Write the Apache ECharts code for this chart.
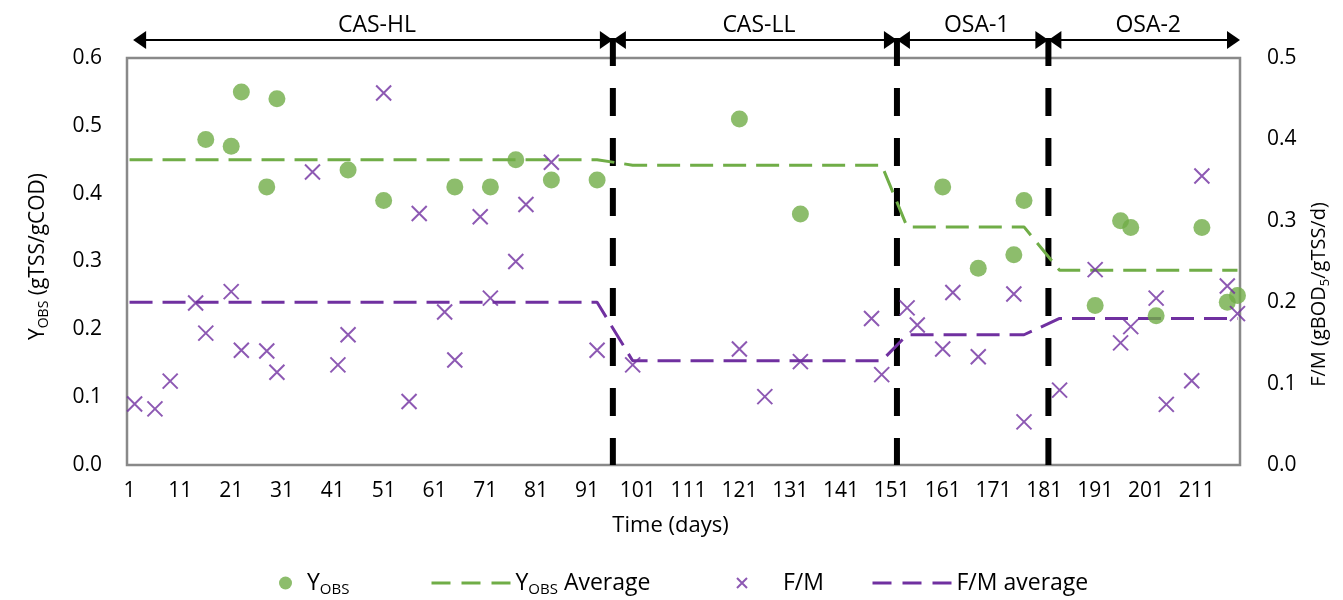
<!DOCTYPE html>
<html><head><meta charset="utf-8">
<script src="https://cdn.jsdelivr.net/npm/echarts@6/dist/echarts.min.js"></script>
<style>html,body{margin:0;padding:0;background:#fff}#c{width:1343px;height:600px}</style>
</head><body><div id="c"></div>
<script>
// ---- data ----
const dayLabels = [];
for (let d = 1; d <= 219; d++) dayLabels.push(String(d));

const yobsDays   = [16,21,23,28,30,44,51,65,72,77,84,93,121,133,161,168,175,177,191,196,198,203,212,217,219];
const yobsValues = [0.48,0.47,0.55,0.41,0.54,0.435,0.39,0.41,0.41,0.45,0.42,0.42,0.51,0.37,0.41,0.29,0.31,0.39,0.235,0.36,0.35,0.22,0.35,0.24,0.25];

const fmDays   = [2,6,9,14,16,21,23,28,30,37,42,44,51,56,58,63,65,70,72,77,79,84,93,100,121,126,133,147,149,154,156,161,163,168,175,177,184,191,196,198,203,205,210,212,217,219];
const fmValues = [0.075,0.069,0.103,0.199,0.162,0.213,0.141,0.140,0.114,0.36,0.123,0.160,0.457,0.078,0.309,0.188,0.129,0.305,0.205,0.25,0.32,0.372,0.141,0.123,0.1425,0.084,0.127,0.180,0.111,0.193,0.172,0.1425,0.212,0.133,0.21,0.053,0.092,0.24,0.15,0.17,0.205,0.0745,0.1036,0.355,0.22,0.186];

const avgDays = [1,93,100,149,154,177,184,219];
const yobsAvg = [0.45,0.45,0.442,0.442,0.351,0.351,0.287,0.287];
const fmAvg   = [0.20,0.20,0.128,0.128,0.16,0.16,0.18,0.18];

const phaseNames = ['CAS-HL','CAS-LL','OSA-1','OSA-2'];
const phaseEdges = [1.7, 96.1, 152.0, 181.8, 219.5];

// ---- styling ----
const FONT = '"Open Sans", sans-serif';
const GREEN = '#70AD47', PURPLE = '#7030A0';
const tickText = { fontFamily: FONT, fontSize: 21, color: '#000' };
const sub = size => ({ fontSize: size, fontFamily: FONT, color: '#000', verticalAlign: 'bottom', lineHeight: size });

const chart = echarts.init(document.getElementById('c'), null, { renderer: 'canvas' });

const LEG_TOP = 569;
const legendText = { fontFamily: FONT, fontSize: 23, color: '#000', lineHeight: 28, rich: { s: sub(15), p1: { width: 10 }, p2: { width: 31 } } };
const hideSym = { opacity: 0, color: 'rgba(0,0,0,0)', borderWidth: 0 };

const option = {
  animation: false,
  backgroundColor: '#fff',
  grid: { left: 127, right: 103, top: 58, bottom: 135, show: true, borderColor: '#898989', borderWidth: 2.5 },
  xAxis: [
    { type: 'category', data: dayLabels, boundaryGap: true,
      axisLine: { show: false }, axisTick: { show: false }, splitLine: { show: false },
      axisLabel: Object.assign({ interval: 9, margin: 16 }, tickText),
      name: 'Time (days)', nameLocation: 'middle', nameGap: 50,
      nameTextStyle: { fontFamily: FONT, fontSize: 22, color: '#000', padding: [0, 26, 0, 0] } },
    { type: 'value', min: 0.5, max: 219.5, show: false }
  ],
  yAxis: [
    { type: 'value', min: 0, max: 0.6, interval: 0.1, position: 'left',
      axisLine: { show: false }, axisTick: { show: false }, splitLine: { show: false },
      axisLabel: Object.assign({ margin: 25, formatter: v => v.toFixed(1) }, tickText),
      name: 'Y{s|OBS} (gTSS/gCOD)', nameLocation: 'middle', nameRotate: 90, nameGap: 76,
      nameTextStyle: { fontFamily: FONT, fontSize: 21, color: '#000', lineHeight: 26, padding: [0, 0, 0, 10], rich: { s: sub(14) } } },
    { type: 'value', min: 0, max: 0.5, interval: 0.1, position: 'right',
      axisLine: { show: false }, axisTick: { show: false }, splitLine: { show: false },
      axisLabel: Object.assign({ margin: 27, formatter: v => v.toFixed(1) }, tickText),
      name: 'F/M (gBOD{s|5}/gTSS/d)', nameLocation: 'middle', nameRotate: 90, nameGap: 67,
      nameTextStyle: { fontFamily: FONT, fontSize: 20, color: '#000', lineHeight: 24, padding: [0, 66, 0, 0], rich: { s: sub(13) } } }
  ],
  legend: [
    { data: [{ name: 'Y_OBS', icon: 'circle' }], left: 279, top: LEG_TOP, itemWidth: 13, itemHeight: 13, padding: 0,
      textStyle: legendText, formatter: () => '{p1|}Y{s|OBS}' },
    { data: ['Y_OBS Average'], left: 430, top: LEG_TOP, itemWidth: 79, itemHeight: 14, padding: 0,
      lineStyle: { type: [19, 11], width: 3 }, itemStyle: hideSym,
      textStyle: legendText, formatter: () => 'Y{s|OBS} Average' },
    { data: ['F/M'], left: 736, top: LEG_TOP, itemWidth: 10, itemHeight: 10, padding: 0,
      textStyle: legendText, formatter: () => '{p2|}F/M' },
    { data: ['F/M average'], left: 871, top: LEG_TOP, itemWidth: 79, itemHeight: 14, padding: 0,
      lineStyle: { type: [19, 11], width: 3 }, itemStyle: hideSym,
      textStyle: legendText, formatter: () => 'F/M average' }
  ],
  series: [
    { name: 'Y_OBS', type: 'scatter', xAxisIndex: 1, yAxisIndex: 0,
      data: yobsDays.map((d, i) => [d, yobsValues[i]]),
      symbol: 'circle', symbolSize: 17, itemStyle: { color: GREEN }, z: 5 },
    { name: 'Y_OBS Average', type: 'line', xAxisIndex: 1, yAxisIndex: 0,
      data: avgDays.map((d, i) => [d, yobsAvg[i]]),
      symbol: 'none', lineStyle: { color: GREEN, width: 3, type: [23, 10] }, itemStyle: { color: GREEN }, z: 3 },
    { name: 'F/M', type: 'scatter', xAxisIndex: 1, yAxisIndex: 1,
      data: fmDays.map((d, i) => [d, fmValues[i]]),
      symbol: 'path://M0,0L10,10M10,0L0,10', symbolSize: 15,
      itemStyle: { color: 'rgba(0,0,0,0)', borderColor: PURPLE, borderWidth: 2 }, z: 5 },
    { name: 'F/M average', type: 'line', xAxisIndex: 1, yAxisIndex: 1,
      data: avgDays.map((d, i) => [d, fmAvg[i]]),
      symbol: 'none', lineStyle: { color: PURPLE, width: 3, type: [23, 10] }, itemStyle: { color: PURPLE }, z: 3 }
  ]
};
chart.setOption(option);

// ---- phase annotations placed through the axis scales ----
const xp = v => chart.convertToPixel({ xAxisIndex: 1 }, v);
const topY = chart.convertToPixel({ yAxisIndex: 0 }, 0.6);
const botY = chart.convertToPixel({ yAxisIndex: 0 }, 0);
const arrowY = topY - 18;
const els = [];
phaseEdges.slice(1, -1).forEach(b => {
  const x = xp(b);
  els.push({ type: 'line', z: 1, shape: { x1: x, y1: arrowY - 2, x2: x, y2: botY }, style: { stroke: '#000', lineWidth: 6, lineDash: [28, 22] } });
});
for (let i = 0; i < phaseNames.length; i++) {
  const x1 = xp(phaseEdges[i]), x2 = xp(phaseEdges[i + 1]);
  els.push({ type: 'line', z: 10, shape: { x1: x1 + 6, y1: arrowY, x2: x2 - 6, y2: arrowY }, style: { stroke: '#000', lineWidth: 2 } });
  els.push({ type: 'polygon', z: 10, shape: { points: [[x1, arrowY], [x1 + 13, arrowY - 9], [x1 + 13, arrowY + 9]] }, style: { fill: '#000' } });
  els.push({ type: 'polygon', z: 10, shape: { points: [[x2, arrowY], [x2 - 13, arrowY - 9], [x2 - 13, arrowY + 9]] }, style: { fill: '#000' } });
  els.push({ type: 'text', z: 10, x: (x1 + x2) / 2 + 4, y: arrowY - 15,
    style: { text: phaseNames[i], font: '23px "Open Sans", sans-serif', fill: '#000', align: 'center', verticalAlign: 'middle', textAlign: 'center', textVerticalAlign: 'middle' } });
}
chart.setOption({ graphic: { elements: els } });
</script>
</body></html>
